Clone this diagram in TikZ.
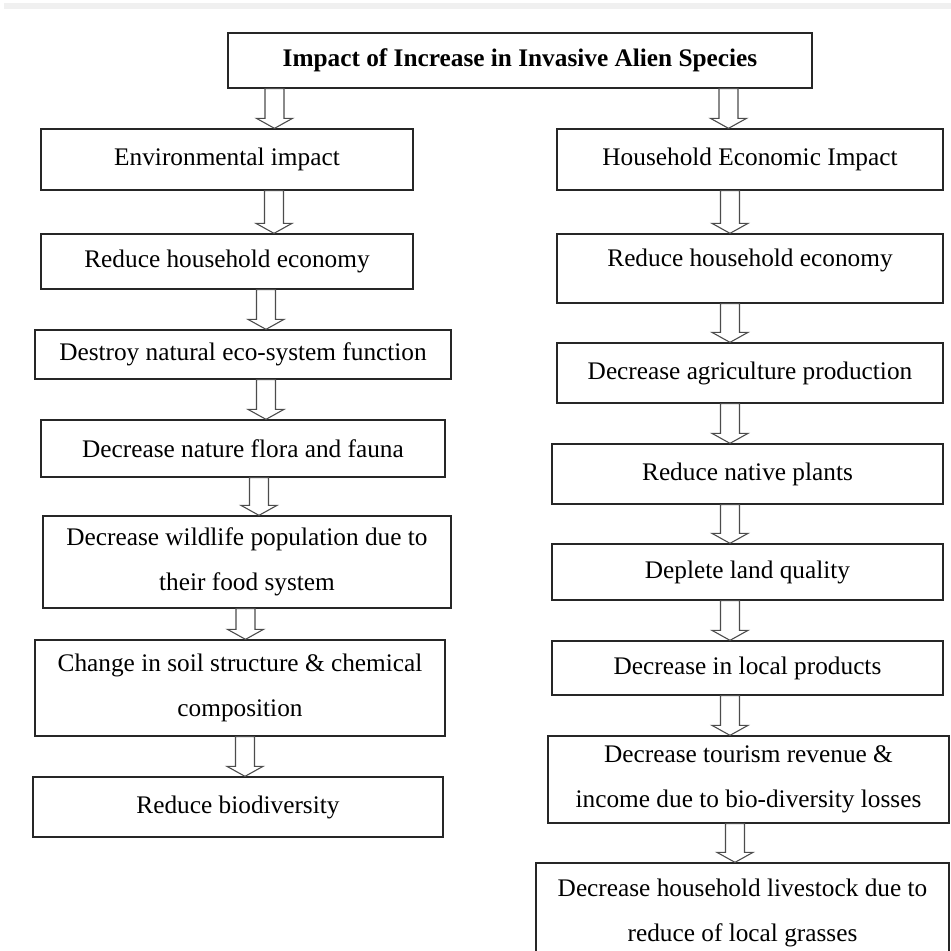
\documentclass[tikz,border=0pt]{standalone}
\usepackage{fontspec}
\setmainfont{Liberation Serif}
\usetikzlibrary{calc}

\tikzset{
  box/.style={draw=black!85, line width=1.3pt, rectangle, fill=white, align=center, inner sep=0pt, font=\fontsize{25.3}{44.8}\selectfont},
  hollow/.style={draw=black!70, line width=1.1pt, fill=white, line join=miter},
}

% hollow block arrow: shaft x, upper node, lower node
\newcommand{\blockarrow}[3]{%
  \path (#2.south -| #1,0) coordinate (ba_top) (#3.north -| #1,0) coordinate (ba_tip);
  \draw[hollow] ($(ba_top)+(-9.5,0)$) -- ($(ba_tip)+(-9.5,-10)$) -- ($(ba_tip)+(-18,-10)$) -- (ba_tip)
    -- ($(ba_tip)+(18,-10)$) -- ($(ba_tip)+(9.5,-10)$) -- ($(ba_top)+(9.5,0)$) -- cycle;
}

\begin{document}
\begin{tikzpicture}[x=1pt,y=-1pt]
        \useasboundingbox (0,0) rectangle (951,951);
        \fill[black!6] (4,3) rectangle (951,9);

        % Title
        \node[box, minimum width=584pt, minimum height=55pt, font=\fontsize{25.3}{44.8}\selectfont\bfseries] (top) at (520,60.5) {Impact of Increase in Invasive Alien Species};

        % Environmental column
        \node[box, minimum width=372pt, minimum height=61pt] (env_impact) at (227,159.5) {Environmental impact};
        \node[box, minimum width=372pt, minimum height=55pt] (env_reduce) at (227,261.5) {Reduce household economy};
        \node[box, minimum width=416pt, minimum height=49pt] (env_destroy) at (243,354.5) {Destroy natural eco-system function};
        \node[box, minimum width=404pt, minimum height=57pt] (env_flora) at (243,448.5) {Decrease nature flora and fauna};
        \node[box, minimum width=408pt, minimum height=92pt] (env_wildlife) at (247,562) {Decrease wildlife population due to\\their food system};
        \node[box, minimum width=410pt, minimum height=96pt] (env_soil) at (240,688) {Change in soil structure \& chemical\\composition};
        \node[box, minimum width=410pt, minimum height=60pt] (env_biodiv) at (238,807) {Reduce biodiversity};

        % Household economic column
        \node[box, minimum width=386pt, minimum height=61pt] (hh_impact) at (750,159.5) {Household Economic Impact};
        \node[box, minimum width=386pt, minimum height=69pt, text depth=22pt] (hh_reduce) at (750,268.5) {Reduce household economy};
        \node[box, minimum width=386pt, minimum height=60pt] (hh_agri) at (750,373) {Decrease agriculture production};
        \node[box, minimum width=391pt, minimum height=60pt] (hh_native) at (747.5,474) {Reduce native plants};
        \node[box, minimum width=391pt, minimum height=56pt] (hh_land) at (747.5,572) {Deplete land quality};
        \node[box, minimum width=391pt, minimum height=54pt] (hh_local) at (747.5,668) {Decrease in local products};
        \node[box, minimum width=401pt, minimum height=87pt] (hh_tourism) at (748.5,779.5) {Decrease tourism revenue \&\\income due to bio-diversity losses};
        \node[box, minimum width=413pt, minimum height=100pt] (hh_livestock) at (742.5,913) {Decrease household livestock due to\\reduce of local grasses};

        % Arrows
        \blockarrow{274.5}{top}{env_impact}
        \blockarrow{728.5}{top}{hh_impact}
        \blockarrow{274}{env_impact}{env_reduce}
        \blockarrow{266}{env_reduce}{env_destroy}
        \blockarrow{266}{env_destroy}{env_flora}
        \blockarrow{259}{env_flora}{env_wildlife}
        \blockarrow{245.5}{env_wildlife}{env_soil}
        \blockarrow{245}{env_soil}{env_biodiv}
        \blockarrow{730}{hh_impact}{hh_reduce}
        \blockarrow{730}{hh_reduce}{hh_agri}
        \blockarrow{730}{hh_agri}{hh_native}
        \blockarrow{730}{hh_native}{hh_land}
        \blockarrow{730}{hh_land}{hh_local}
        \blockarrow{730}{hh_local}{hh_tourism}
        \blockarrow{735}{hh_tourism}{hh_livestock}
\end{tikzpicture}
\end{document}
